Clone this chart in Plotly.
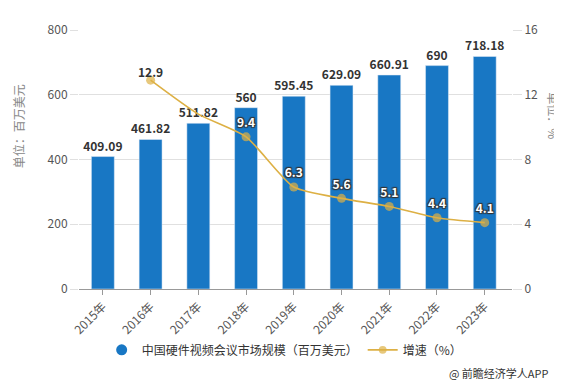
import plotly.graph_objects as go

years = ["2015年", "2016年", "2017年", "2018年", "2019年", "2020年", "2021年", "2022年", "2023年"]
market = [409.09, 461.82, 511.82, 560, 595.45, 629.09, 660.91, 690, 718.18]
growth_years = ["2016年", "2017年", "2018年", "2019年", "2020年", "2021年", "2022年", "2023年"]
growth = [12.9, 10.8, 9.4, 6.3, 5.6, 5.1, 4.4, 4.1]
growth_labels = ["", "", "9.4", "6.3", "5.6", "5.1", "4.4", "4.1"]
first_label = ["12.9", "", "", "", "", "", "", ""]

FONT = "Noto Sans CJK SC"
BAR = "#1877C4"
GOLD = "#DDB044"

fig = go.Figure()
fig.add_trace(go.Bar(
    x=years, y=market, name="中国硬件视频会议市场规模（百万美元）",
    marker=dict(color=BAR), width=0.48, showlegend=False,
    text=[f"{v:g}" for v in market], textposition="outside", constraintext="none",
    textfont=dict(family=FONT, size=12, color="#333", weight="bold"),
    cliponaxis=False,
))
# legend entry with a circle symbol for the bar series
fig.add_trace(go.Scatter(
    x=[None], y=[None], mode="markers", name="中国硬件视频会议市场规模（百万美元）",
    marker=dict(color=BAR, size=11, symbol="circle"),
))
fig.add_trace(go.Scatter(
    x=growth_years, y=growth, name="增速（%）", yaxis="y2",
    mode="lines+markers+text", line=dict(color=GOLD, width=1.6, shape="spline", smoothing=0.6),
    marker=dict(color=GOLD, size=[9, 0, 9, 9, 9, 9, 9, 9], line=dict(width=0)),
    text=growth_labels, textposition="top center",
    textfont=dict(family=FONT, size=12, weight="bold", color="#fff",
                  shadow="1px 1px 1px #333, -1px -1px 1px #333, 1px -1px 1px #333, -1px 1px 1px #333"),
    cliponaxis=False,
))
fig.add_trace(go.Scatter(
    x=growth_years, y=growth, yaxis="y2", mode="text", showlegend=False,
    text=first_label, textposition="top center",
    textfont=dict(family=FONT, size=12, weight="bold", color="#333"),
    cliponaxis=False,
))

fig.update_layout(
    width=562, height=387,
    margin=dict(l=71, r=58, t=17, b=106),
    paper_bgcolor="white", plot_bgcolor="white",
    font=dict(family=FONT, size=12, color="#555"),
    showlegend=True,
    legend=dict(orientation="h", x=0.475, xanchor="center", y=-0.235, yanchor="middle",
                font=dict(family=FONT, size=12, color="#333"), itemwidth=30,
                traceorder="normal"),
    xaxis=dict(tickangle=-45, ticks="outside", ticklen=5, tickcolor="#999",
               showline=True, linecolor="#999", linewidth=1,
               tickfont=dict(size=12, color="#555")),
    yaxis=dict(range=[0, 800], dtick=200, showgrid=True, gridcolor="#e0e0e0",
               ticks="outside", ticklen=8, tickcolor="#e0e0e0", zeroline=False,
               tickfont=dict(size=12, color="#555")),
    yaxis2=dict(range=[0, 16], dtick=4, overlaying="y", side="right", showgrid=False,
                ticks="outside", ticklen=9, tickcolor="#e0e0e0", zeroline=False,
                tickfont=dict(size=12, color="#555")),
    annotations=[
        dict(text="单位：百万美元", xref="paper", yref="paper", x=-0.14, y=0.63,
             xanchor="center", yanchor="middle", textangle=-90, showarrow=False,
             font=dict(family=FONT, size=12, color="#888")),
        dict(text="单位：%", xref="paper", yref="paper", x=1.095, y=0.67,
             xanchor="center", yanchor="middle", textangle=90, showarrow=False,
             font=dict(family=FONT, size=12, color="#888")),
        dict(text="@ 前瞻经济学人APP", xref="paper", yref="paper", x=1.09, y=-0.325,
             xanchor="right", yanchor="middle", showarrow=False,
             font=dict(family=FONT, size=11, color="#333")),
    ],
)

fig.write_html("out.html")
